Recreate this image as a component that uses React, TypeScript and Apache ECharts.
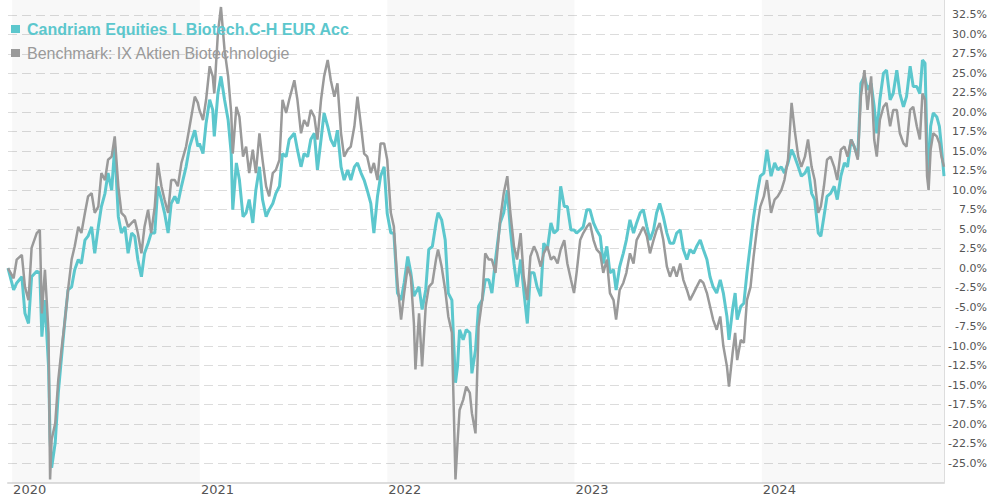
import React, { useEffect, useRef } from "react";
import * as echarts from "echarts";

const fundName = "Candriam Equities L Biotech.C-H EUR Acc";
const benchName = "Benchmark: IX Aktien Biotechnologie";

const yearLabels = ["2020", "2021", "2022", "2023", "2024"];
const shadedYears = [2020, 2022, 2024];

// days since 2020-01-01
const dayOffsets = [
  -8, 3, 9, 19, 25, 32, 38, 48, 54, 58, 64, 71, 74, 77, 84, 90, 97, 103, 109, 116,
  122, 129, 135, 142, 148, 155, 161, 168, 174, 181, 187, 194, 200, 207, 213, 220, 226, 233, 239, 245,
  252, 258, 265, 271, 278, 284, 291, 297, 304, 310, 317, 323, 330, 339, 346, 356, 362, 365, 372, 378,
  385, 391, 394, 401, 407, 414, 421, 427, 430, 437, 443, 450, 456, 462, 469, 475, 482, 488, 495, 501,
  508, 514, 521, 527, 534, 540, 550, 556, 563, 569, 576, 582, 589, 595, 602, 608, 615, 621, 628, 634,
  641, 647, 654, 660, 667, 673, 680, 686, 692, 699, 705, 712, 718, 725, 731, 738, 744, 751, 758, 764,
  771, 777, 783, 786, 793, 799, 806, 812, 819, 826, 830, 837, 844, 850, 857, 864, 868, 872, 879, 885,
  892, 896, 903, 909, 916, 922, 929, 935, 942, 951, 958, 965, 971, 978, 984, 991, 997, 1004, 1010, 1017,
  1023, 1030, 1036, 1043, 1050, 1056, 1063, 1069, 1076, 1082, 1089, 1095, 1100, 1107, 1113, 1120, 1126, 1133, 1139, 1146,
  1152, 1159, 1165, 1172, 1177, 1184, 1191, 1197, 1204, 1211, 1217, 1224, 1230, 1237, 1243, 1250, 1256, 1262, 1269, 1276,
  1282, 1289, 1295, 1302, 1308, 1315, 1321, 1328, 1334, 1341, 1347, 1354, 1360, 1366, 1373, 1380, 1386, 1393, 1397, 1404,
  1409, 1413, 1420, 1426, 1432, 1439, 1445, 1452, 1458, 1465, 1471, 1479, 1486, 1492, 1499, 1505, 1512, 1519, 1525, 1532,
  1538, 1545, 1551, 1558, 1564, 1571, 1576, 1582, 1588, 1595, 1602, 1608, 1615, 1622, 1628, 1635, 1641, 1648, 1654, 1661,
  1667, 1674, 1680, 1685, 1691, 1698, 1704, 1711, 1717, 1724, 1730, 1737, 1743, 1750, 1756, 1763, 1769, 1774, 1779, 1783,
  1786, 1790, 1795, 1802, 1807, 1811, 1816,
];

const fundValues = [
  0, -2.8, -1.9, -1.1, -5.8, -7.1, -1.1, -0.4, -0.6, -8.8, -4.1, -12.6, -22, -25.6, -22.4, -16, -10.9, -6.6, -2.8, -2.4,
  -0.2, 1.1, 0.6, 3.6, 4.1, 5.3, 1.9, 5.3, 7.9, 9.6, 12.2, 10, 15.6, 6.6, 4.5, 5.3, 1.9, 4.5, 4.1, 1.1,
  -1.1, 1.9, 3.2, 4.5, 4.5, 10.5, 8.8, 7.1, 4.5, 8.3, 9.2, 8.3, 10.5, 13, 15.6, 17.7, 15.6, 16, 14.7, 18.6,
  21.6, 20.3, 16.9, 22.4, 24.6, 21.6, 19, 14.7, 7.5, 13.5, 11.3, 6.6, 7.1, 8.8, 5.8, 10, 13, 8.8, 6.6, 7.5,
  8.3, 9.6, 10.5, 14.7, 14.3, 16.5, 17.3, 15.2, 13, 14.7, 14.3, 16.5, 17.3, 12.6, 16.5, 19.9, 18.2, 16.5, 15.6, 17.7,
  13, 11.3, 12.6, 11.3, 13, 13.5, 12.2, 11.3, 10, 8.3, 4.5, 9.2, 11.8, 13, 7, 4.5, 4.5, -3.2, -4.1, -1.9,
  1.5, -0.6, -3.6, -3.2, -2.4, -5.3, -2.8, 2.4, 2.8, 5.8, 7.1, 6.2, 3.6, -3.2, -4.1, -14.7, -12.6, -7.9, -9.2, -7.9,
  -8.3, -13.5, -10.5, -4.9, -4.1, -1.5, -1.5, -3.2, 1.1, 5.8, 7.1, 10, 4.9, 0.6, -2.4, 1.1, -2.8, -7.1, -0.6, -0.6,
  -2.4, -3.6, 3.2, 2.4, 5.8, 4.5, 4.9, 10.5, 7.9, 7.9, 4.9, 4.9, 4.5, 4.9, 5.3, 7.5, 7.5, 5.8, 4.9, 4.1,
  0.6, 2.8, -0.6, -0.2, -2.8, 0.2, 1.9, 3.6, 6.2, 4.5, 5.8, 7.1, 7.5, 5.3, 3.6, 4.9, 7.1, 8.3, 6.6, 4.5,
  3.2, 3.2, 4.5, 4.9, 2.4, 1.1, 2.4, 1.9, 2.8, 3.6, 2.4, 1.1, -1.1, -2.4, -3.2, -1.5, -3.2, -6.2, -9.2, -5.3,
  -3.2, -6.6, -4.9, -4.5, -0.6, 3.2, 6.6, 9.6, 11.8, 12.2, 15.2, 11.8, 13.5, 12.6, 13, 12.2, 13.5, 15.2, 14.3, 13,
  11.8, 12.2, 13, 9.6, 8.8, 4.5, 4.1, 6.6, 9.2, 9.6, 10.5, 8.8, 11.8, 13.5, 13, 16.5, 15.6, 14.3, 23.7, 24.6,
  22.9, 23.7, 20.7, 17.3, 21.6, 25, 25.4, 21.6, 22.4, 25.4, 22.4, 20.7, 22, 25.9, 23.3, 23.3, 22.4, 26.7, 26.3, 15.2,
  12.2, 18.2, 19.9, 19.4, 18.2, 15.6, 11.8,
];

const benchmarkValues = [
  0, -1.3, 1.1, 1.7, -2.4, -4.1, 2.6, 4.5, 4.9, -5.8, -0.2, -8.3, -27.1, -22, -19.9, -14.3, -10, -6.6, -2.8, 1.1,
  2.8, 5.3, 4.5, 7.1, 9.2, 9.6, 7.1, 7.9, 12.2, 11.3, 13.9, 14.3, 16.9, 10.5, 7.1, 6.6, 5.3, 5.8, 6.2, 4.5,
  1.9, 5.3, 7.5, 4.5, 7.9, 13.5, 10.5, 8.8, 7.1, 11.3, 11.3, 10.5, 13.5, 15.6, 18.2, 22, 21.2, 20.3, 19, 21.6,
  25.9, 24.6, 22.4, 30.1, 33.5, 28, 24.6, 19.9, 14.7, 20.7, 19.4, 14.3, 15.6, 12.2, 15.2, 12.2, 17.3, 13.9, 10.5, 9.2,
  12.2, 12.6, 13.9, 21.6, 19.9, 21.6, 24.1, 21.6, 17.3, 19, 18.2, 20.3, 19.4, 16.5, 21.6, 24.6, 26.7, 24.1, 22, 23.7,
  17.3, 14.3, 15.2, 15.6, 18.2, 22, 18.2, 14.7, 14.3, 12.2, 13.5, 11.3, 16, 16, 13.9, 7.1, 5.3, -1.9, -6.6, -3.2,
  0.2, -1.1, -7.1, -13, -5.8, -12.6, -4.9, -2.4, -1.9, 1.1, 2.4, 0.2, -2.8, -6.2, -8.3, -27.1, -22.4, -18.2, -16.9, -15.2,
  -16, -18.6, -21.2, -7.5, -4.1, 1.9, 1.1, 1.1, -0.6, 6.2, 9.6, 11.8, 7.1, 2.8, 1.1, 4.5, -1.1, -4.1, 1.5, 2.8,
  1.9, 0.2, 1.9, 2.8, 1.1, 1.5, 0.6, 2.4, 3.6, 0.6, -1.5, -3.2, -0.6, 3.6, 4.5, 5.3, 5.8, 3.6, 2.4, 1.9,
  -0.6, 1.1, -3.2, -4.1, -6.6, -2.8, -1.9, -0.6, 1.9, 0.6, 3.6, 4.5, 5.3, 4.1, 1.9, 3.6, 4.9, 5.8, 3.6, 0.2,
  -1.1, 0.2, -1.1, 0.6, -1.5, -2.8, -4.1, -3.2, -2.4, -1.5, -1.9, -3.2, -4.9, -6.6, -7.9, -6.2, -10, -12.6, -15.2, -10.9,
  -8.3, -11.8, -9.2, -9.6, -4.1, -2.4, 1.5, 5.3, 7.9, 9.2, 11.3, 7.1, 8.8, 9.2, 10, 11.3, 13.9, 21.2, 17.7, 14.3,
  13, 14.3, 16.5, 13, 11.3, 7.1, 7.9, 10.5, 13.9, 14.3, 13, 11.3, 15.2, 15.6, 14.3, 16.5, 15.6, 13.9, 22, 25.4,
  20.3, 24.6, 16.5, 14.3, 19, 20.7, 21.2, 18.2, 20.3, 20.3, 17.3, 16, 15.6, 20.3, 20.7, 18.2, 16.5, 22.4, 21.6, 11.8,
  10, 15.2, 17.3, 16.9, 16, 14.3, 13,
];

const DAY = 86400000;
const BASE = Date.UTC(2020, 0, 1);

const FUND_COLOR = "#5cc7cd";
const BENCH_COLOR = "#9a9a9a";

export default function App() {
  const ref = useRef<HTMLDivElement>(null);

  useEffect(() => {
    document.body.style.margin = "0";
    if (!ref.current) return;
    const chart = echarts.init(ref.current, null, { renderer: "svg" });

    const toTs = (d: number) => BASE + d * DAY;
    const fundData = dayOffsets.map((d, i) => [toTs(d), fundValues[i]]);
    const benchData = dayOffsets.map((d, i) => [toTs(d), benchmarkValues[i]]);
    const minTs = toTs(dayOffsets[0]);
    const maxTs = toTs(dayOffsets[dayOffsets.length - 1]);
    const yearTs = yearLabels.map((y) => Date.UTC(Number(y), 0, 1));

    const bands = shadedYears.map((y) => [
      { xAxis: Date.UTC(y, 0, 1) },
      { xAxis: Math.min(Date.UTC(y + 1, 0, 1), maxTs) },
    ]);

    chart.setOption({
      animation: false,
      grid: { left: 8, right: 43, top: 0, bottom: 17.5, containLabel: false },
      legend: {
        orient: "vertical",
        left: 11,
        top: 21,
        padding: 0,
        itemWidth: 9,
        itemHeight: 8,
        itemGap: 8,
        icon: "rect",
        selectedMode: false,
        textStyle: {
          fontFamily: "Liberation Sans, Arial, sans-serif",
          fontSize: 16,
          lineHeight: 16,
          padding: [0, 0, 0, 2],
        },
        data: [
          { name: fundName, textStyle: { color: FUND_COLOR, fontWeight: "bold" } },
          { name: benchName, textStyle: { color: BENCH_COLOR, fontWeight: "normal" } },
        ],
      },
      xAxis: {
        type: "value",
        min: minTs,
        max: maxTs,
        axisLine: { show: true, onZero: false, lineStyle: { color: "#ddd", width: 2 } },
        axisTick: { show: false },
        splitLine: { show: false },
        axisLabel: {
          customValues: yearTs,
          formatter: (v: number) => String(new Date(v).getUTCFullYear()),
          align: "left",
          margin: 0,
          padding: [0, 0, 0, 1],
          color: "#555",
          fontFamily: "DejaVu Sans, Verdana, sans-serif",
          fontSize: 13,
        },
      },
      yAxis: {
        type: "value",
        position: "right",
        min: -27.5,
        max: 34.4,
        interval: 2.5,
        axisLine: { show: true, lineStyle: { color: "#ddd", width: 1 } },
        axisTick: { show: false },
        splitLine: {
          show: true,
          showMinLine: false,
          showMaxLine: false,
          lineStyle: { color: "#dcdcdc", type: [9, 5], width: 1 },
        },
        axisLabel: {
          showMinLabel: false,
          showMaxLabel: false,
          formatter: (v: number) => v.toFixed(1) + "%",
          align: "right",
          margin: 43,
          color: "#555",
          fontFamily: "DejaVu Sans, Verdana, sans-serif",
          fontSize: 11,
        },
      },
      series: [
        {
          name: fundName,
          type: "line",
          data: fundData,
          symbol: "none",
          showSymbol: false,
          lineStyle: { color: FUND_COLOR, width: 3 },
          itemStyle: { color: FUND_COLOR },
          z: 2,
          markArea: {
            silent: true,
            itemStyle: { color: "rgba(0,0,0,0.026)" },
            data: bands,
          },
        },
        {
          name: benchName,
          type: "line",
          data: benchData,
          symbol: "none",
          showSymbol: false,
          lineStyle: { color: BENCH_COLOR, width: 2.5 },
          itemStyle: { color: BENCH_COLOR },
          z: 3,
        },
      ],
    });

    return () => chart.dispose();
  }, []);

  return (
    <div
      ref={ref}
      style={{ position: "absolute", left: 0, top: 0, width: 990, height: 500 }}
    />
  );
}
